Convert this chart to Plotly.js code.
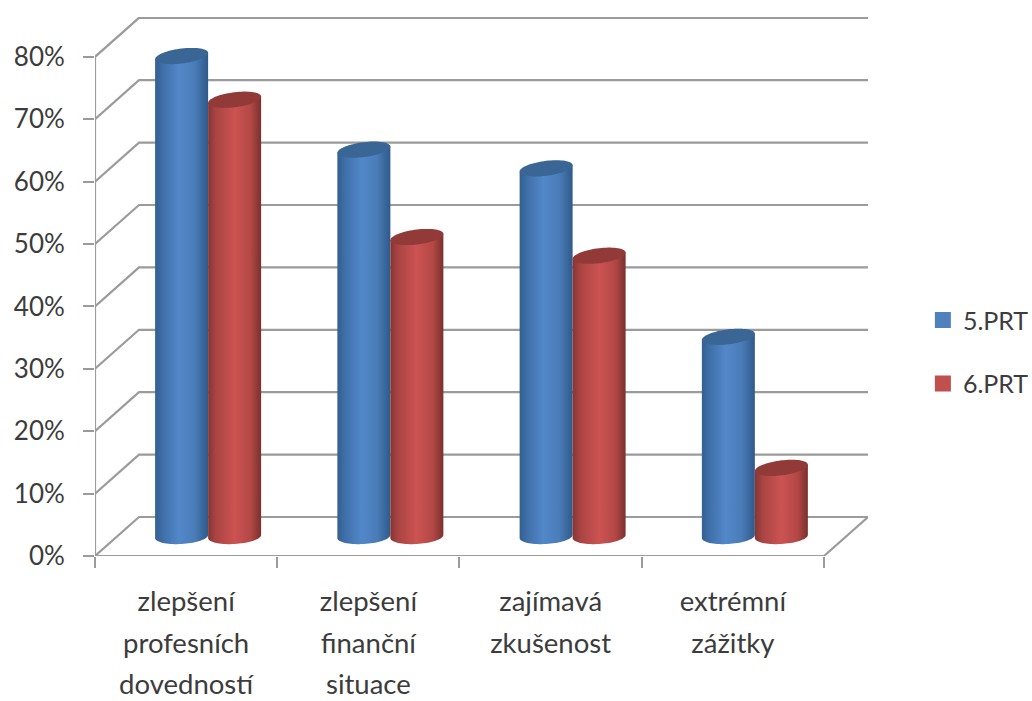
<!DOCTYPE html>
<html>
<head>
<meta charset="utf-8">
<script src="https://cdn.plot.ly/plotly-3.0.1.min.js"></script>
<style>html,body{margin:0;padding:0;background:#fff}#chart{width:1032px;height:701px}</style>
</head>
<body>
<div id="chart"></div>
<script>
// Survey answers per category, in percent
const categories = ["zlepšení<br>profesních<br>dovedností", "zlepšení<br>finanční<br>situace", "zajímavá<br>zkušenost", "extrémní<br>zážitky"];
const seriesNames = ["5.PRT", "6.PRT"];
const prt5 = [77, 62, 59, 32];
const prt6 = [70, 48, 45, 11];
const yTicks = [0, 10, 20, 30, 40, 50, 60, 70, 80];
const yTickLabels = ["0%", "10%", "20%", "30%", "40%", "50%", "60%", "70%", "80%"];

// Oblique projection of the chart box, in axis units
const depthX = 0.2414, depthY = 6.25;
const barHalf = 0.1454, capMinor = 1.2, capTilt = 0.5;
const gridColor = "#9b9b9b", textColor = "#3c3c3c";
const fontFamily = "Lato, 'Open Sans', sans-serif";

const palette = [
  {swatch: "#4f81bd", cap: "#3a6696",
   bands: [[0, "#335f90"], [0.14, "#3f6fa8"], [0.45, "#5287c9"], [0.75, "#4a7cb8"], [1, "#2f5a8a"]]},
  {swatch: "#c0504d", cap: "#923a37",
   bands: [[0, "#853634"], [0.14, "#a84442"], [0.5, "#cc5352"], [0.8, "#b34846"], [1, "#7b302e"]]}
];

// Walls and floor: back lines, side diagonals, floor outline
const gridX = [], gridY = [];
yTicks.forEach(t => {
  gridX.push(0.5, 0.5 + depthX, 4.5 + depthX, null);
  gridY.push(t, t + depthY, t + depthY, null);
});
gridX.push(4.5 + depthX, 4.5, null);
gridY.push(depthY, 0, null);

const traces = [{
  type: "scatter", mode: "lines", x: gridX, y: gridY, cliponaxis: false,
  line: {color: gridColor, width: 2.2}, showlegend: false, hoverinfo: "skip"
}, {
  type: "scatter", mode: "lines", x: [0.5, 0.5, null, 0.5, 4.5], y: [0, 80, null, 0, 0], cliponaxis: false,
  line: {color: gridColor, width: 2.2}, showlegend: false, hoverinfo: "skip"
}];

// One cylinder: shaded body followed by the tilted top cap
function cylinder(cx, value, style, name) {
  const base = depthY / 2, top = base + value;
  const bx = [], by = [], cxs = [], cys = [];
  const steps = 36;
  bx.push(cx - barHalf); by.push(top - capTilt);
  for (let i = 0; i <= steps; i++) {
    const t = Math.PI + Math.PI * i / steps;
    bx.push(cx + barHalf * Math.cos(t));
    by.push(base + capMinor * Math.sin(t) + capTilt * Math.cos(t) * 0.5);
  }
  bx.push(cx + barHalf); by.push(top + capTilt);
  for (let i = 0; i <= steps * 2; i++) {
    const t = 2 * Math.PI * i / (steps * 2);
    cxs.push(cx + barHalf * Math.cos(t));
    cys.push(top + capMinor * Math.sin(t) + capTilt * Math.cos(t));
  }
  traces.push({
    type: "scatter", mode: "none", x: bx, y: by, fill: "toself", name: name,
    fillgradient: {type: "horizontal", colorscale: style.bands},
    showlegend: false, hoverinfo: "skip"
  }, {
    type: "scatter", mode: "none", x: cxs, y: cys, fill: "toself", name: name,
    fillcolor: style.cap, showlegend: false, hoverinfo: "skip"
  });
}

categories.forEach((c, i) => {
  const mid = i + 1 + depthX / 2;
  cylinder(mid - barHalf, prt5[i], palette[0], seriesNames[0]);
  cylinder(mid + barHalf, prt6[i], palette[1], seriesNames[1]);
});

// Legend entries
seriesNames.forEach((n, i) => traces.push({
  type: "scatter", mode: "markers", x: [null], y: [null], name: n, legendgroup: n,
  marker: {symbol: "square", size: 18, color: palette[i].swatch}
}));

const styled = s => s.split("<br>").map(p => `<span style="font-size:27.5px">${p}</span>`).join("<br>");

const layout = {
  width: 1032, height: 701,
  margin: {l: 95, r: 164, t: 17, b: 145, pad: 0, autoexpand: false},
  paper_bgcolor: "#fff", plot_bgcolor: "#fff",
  font: {family: fontFamily, color: textColor},
  showlegend: true,
  legend: {
    x: 1.071, y: 0.48, xanchor: "left", yanchor: "top",
    font: {size: 25, color: textColor}, traceorder: "grouped", tracegroupgap: 28,
    itemclick: false, itemdoubleclick: false, bgcolor: "rgba(0,0,0,0)"
  },
  xaxis: {
    range: [0.5, 4.7415], tickmode: "array", tickvals: [1, 2, 3, 4], ticktext: categories.map(styled),
    tickfont: {size: 32, color: textColor, family: fontFamily}, tickangle: 0,
    ticks: "", showgrid: false, zeroline: false, showline: false, ticklabelstandoff: 22,
    minor: {tick0: 0.5, dtick: 1, ticks: "outside", ticklen: 11, tickwidth: 2, tickcolor: gridColor, showgrid: false}
  },
  yaxis: {
    range: [0, 86.38], tickmode: "array", tickvals: yTicks, ticktext: yTickLabels,
    tickfont: {size: 26, color: textColor, family: fontFamily},
    ticks: "outside", ticklen: 11, tickwidth: 2, tickcolor: gridColor,
    showgrid: false, zeroline: false, showline: false, ticklabelstandoff: 13
  }
};

Plotly.newPlot("chart", traces, layout, {displayModeBar: false, staticPlot: false});
</script>
</body>
</html>
